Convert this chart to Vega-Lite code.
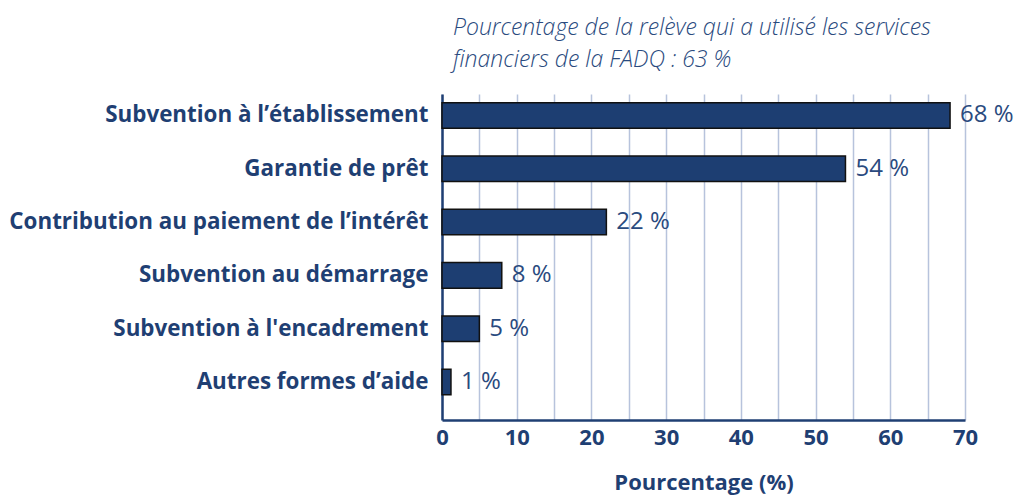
{
  "$schema": "https://vega.github.io/schema/vega-lite/v6.json",
  "autosize": "none",
  "width": 523,
  "height": 326,
  "padding": {"left": 442, "top": 94, "right": 51, "bottom": 77},
  "background": "white",
  "title": {
    "text": ["Pourcentage de la relève qui a utilisé les services", "financiers de la FADQ : 63 %"],
    "anchor": "start",
    "frame": "group",
    "dx": 11,
    "offset": 22,
    "font": "Open Sans",
    "fontStyle": "italic",
    "fontWeight": 300,
    "fontSize": 23,
    "lineHeight": 32,
    "color": "#2a4a7e"
  },
  "data": {
    "values": [
      {"aide": "Subvention à l’établissement", "pct": 68, "etiquette": "68 %"},
      {"aide": "Garantie de prêt", "pct": 54, "etiquette": "54 %"},
      {"aide": "Contribution au paiement de l’intérêt", "pct": 22, "etiquette": "22 %"},
      {"aide": "Subvention au démarrage", "pct": 8, "etiquette": "8 %"},
      {"aide": "Subvention à l'encadrement", "pct": 5, "etiquette": "5 %"},
      {"aide": "Autres formes d’aide", "pct": 1.2, "etiquette": "1 %"}
    ]
  },
  "config": {
    "view": {"stroke": null},
    "font": "Open Sans"
  },
  "encoding": {
    "y": {
      "field": "aide",
      "type": "nominal",
      "sort": null,
      "scale": {"paddingInner": 0.52, "paddingOuter": 0.318, "align": 0.256},
      "axis": {
        "title": null,
        "ticks": false,
        "domain": true,
        "domainColor": "#1f3f73",
        "domainWidth": 2.5,
        "labelFont": "Open Sans",
        "labelFontWeight": "bold",
        "labelFontSize": 22.4,
        "labelColor": "#1f3f73",
        "labelPadding": 14,
        "labelLimit": 500
      }
    },
    "x": {
      "field": "pct",
      "type": "quantitative",
      "scale": {"domain": [0, 70], "nice": false},
      "axis": {
        "title": "Pourcentage (%)",
        "values": [0, 5, 10, 15, 20, 25, 30, 35, 40, 45, 50, 55, 60, 65, 70],
        "labelExpr": "datum.value % 10 === 0 ? datum.label : ''",
        "ticks": false,
        "domainColor": "#1f3f73",
        "domainWidth": 2.5,
        "grid": true,
        "gridColor": "#b7c3dc",
        "gridWidth": 1.5,
        "labelFont": "Open Sans",
        "labelFontWeight": "bold",
        "labelFontSize": 22,
        "labelColor": "#1f3f73",
        "labelPadding": 7,
        "labelFlush": false,
        "titleFont": "Open Sans",
        "titleFontWeight": "bold",
        "titleFontSize": 22,
        "titleColor": "#1f3f73",
        "titlePadding": 24
      }
    }
  },
  "layer": [
    {
      "mark": {"type": "bar", "color": "#1d3e72", "stroke": "#111111", "strokeWidth": 1.5}
    },
    {
      "mark": {"type": "text", "align": "left", "baseline": "middle", "dx": 10, "fontSize": 24, "color": "#2a4a7e", "font": "Open Sans"},
      "encoding": {"text": {"field": "etiquette"}}
    }
  ]
}
